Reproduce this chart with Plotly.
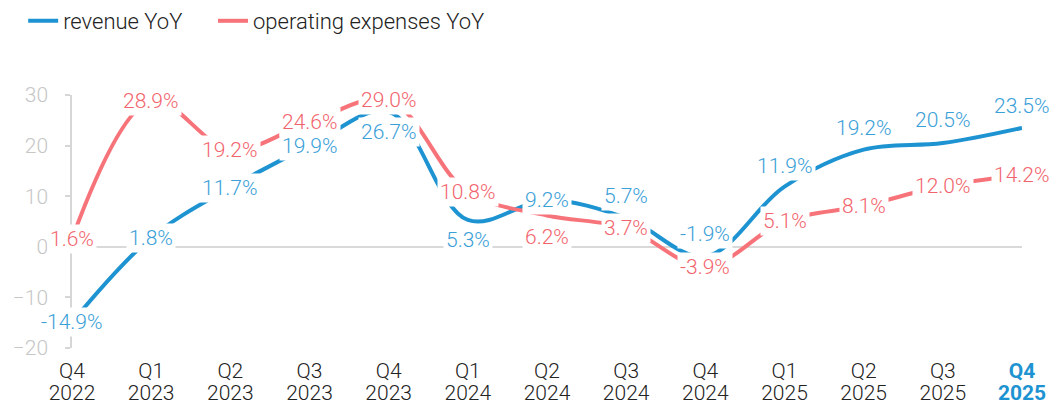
import plotly.graph_objects as go

quarters = ["Q4", "Q1", "Q2", "Q3", "Q4", "Q1", "Q2", "Q3", "Q4", "Q1", "Q2", "Q3", "Q4"]
years = ["2022", "2023", "2023", "2023", "2023", "2024", "2024", "2024", "2024", "2025", "2025", "2025", "2025"]
revenue_yoy = [-14.9, 1.8, 11.7, 19.9, 26.7, 5.3, 9.2, 5.7, -1.9, 11.9, 19.2, 20.5, 23.5]
opex_yoy = [1.6, 28.9, 19.2, 24.6, 29.0, 10.8, 6.2, 3.7, -3.9, 5.1, 8.1, 12.0, 14.2]
y_ticks = [-20, -10, 0, 10, 20, 30]

# label vertical offsets in px (layout only)
rev_shift = [0, 0, 0, 0, -20, -20, 0, 22, 22, 21, 22, 23, 22]
opex_shift = [0, 0, 0, 0, 0, 0, -22, 0, 0, 0, 0, 0, 0]

BLUE = "#1e93d1"
RED = "#f7737a"
BLUE_TXT = "#3aa0d8"
RED_TXT = "#f2646d"
FONT = "Roboto, Liberation Sans, sans-serif"

n = len(quarters)
xs = list(range(n))
fig = go.Figure()
fig.add_trace(go.Scatter(x=xs, y=revenue_yoy, mode="lines", name="revenue YoY",
                         line=dict(color=BLUE, width=4, shape="spline", smoothing=1),
                         hoverinfo="skip", legend="legend"))
fig.add_trace(go.Scatter(x=xs, y=opex_yoy, mode="lines", name="operating expenses YoY",
                         line=dict(color=RED, width=4, shape="spline", smoothing=1),
                         hoverinfo="skip", legend="legend2"))
# invisible carrier trace so the second (year) tick row is drawn
fig.add_trace(go.Scatter(x=xs, y=revenue_yoy, mode="lines", xaxis="x2", yaxis="y",
                         line=dict(width=0), opacity=0, showlegend=False, hoverinfo="skip"))

ann = []
for vals, shifts, col in ((revenue_yoy, rev_shift, BLUE_TXT), (opex_yoy, opex_shift, RED_TXT)):
    for i, v in enumerate(vals):
        ann.append(dict(x=xs[i], y=v, text=f"{v:.1f}%", showarrow=False,
                        xanchor="center", yanchor="middle", yshift=shifts[i],
                        bgcolor="white", borderpad=2,
                        font=dict(color=col, size=21, family=FONT, weight=300)))

def last_bold(labels):
    out = list(labels)
    out[-1] = f"<b><span style='color:{BLUE}'>{out[-1]}</span></b>"
    return out

legend_common = dict(orientation="h", xref="container", yref="container", y=1.0,
                     xanchor="left", yanchor="top",
                     font=dict(size=22, color="#222222", weight=300),
                     bgcolor="rgba(0,0,0,0)")

fig.update_layout(
    width=1053, height=405,
    margin=dict(l=72, r=31, t=95, b=57, autoexpand=False),
    paper_bgcolor="white", plot_bgcolor="white",
    font=dict(family=FONT, size=22, color="#222222", weight=300),
    annotations=ann,
    showlegend=True,
    legend=dict(x=0.022, **legend_common),
    legend2=dict(x=0.2023, **legend_common),
    xaxis=dict(range=[0, n - 1], tickvals=xs, ticktext=last_bold(quarters),
               showgrid=False, zeroline=False, showline=False, ticks="",
               automargin=False, ticklabelstandoff=8,
               tickfont=dict(size=21, color="#222222", weight=300)),
    xaxis2=dict(range=[0, n - 1], overlaying="x", anchor="y", side="bottom",
                tickvals=xs, ticktext=last_bold(years),
                showgrid=False, zeroline=False, showline=False, ticks="",
                automargin=False, ticklabelstandoff=30,
                tickfont=dict(size=21, color="#222222", weight=300)),
    yaxis=dict(range=[-20, 30], tickvals=y_ticks, showgrid=False,
               zeroline=True, zerolinecolor="#d9d9d9", zerolinewidth=1.5,
               showline=True, linecolor="#d6d6d6", linewidth=1.5,
               ticks="outside", ticklen=5, tickcolor="#d6d6d6", tickwidth=1.5,
               ticklabelstandoff=13, automargin=False,
               tickfont=dict(size=21, color="#c6c6c6", weight=300)),
)

fig.write_html("out.html", config={"displayModeBar": False},
               post_script="document.body.style.margin='0';")
